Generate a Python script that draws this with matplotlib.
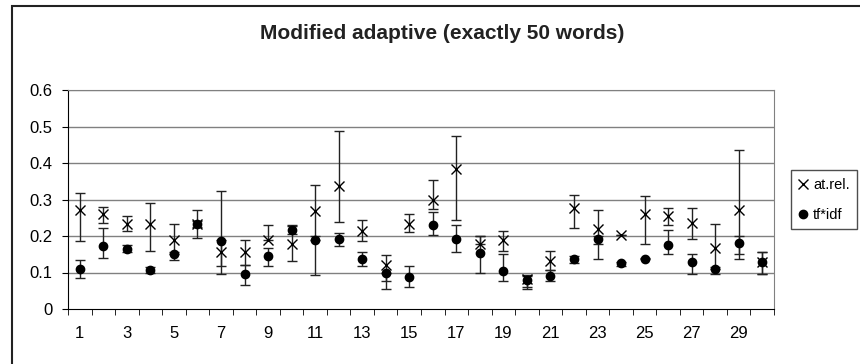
import numpy as np
import matplotlib.pyplot as plt

plt.rcParams['font.family'] = ['Liberation Sans', 'DejaVu Sans']

categories = list(range(1, 31))

# at.rel. series: value, upper end, lower end
atrel = [0.272, 0.260, 0.233, 0.233, 0.190, 0.233, 0.155, 0.155, 0.190, 0.178,
         0.269, 0.338, 0.213, 0.120, 0.233, 0.300, 0.384, 0.179, 0.190, 0.081,
         0.132, 0.277, 0.220, 0.202, 0.260, 0.254, 0.236, 0.167, 0.272, 0.128]
atrel_hi = [0.317, 0.279, 0.256, 0.291, 0.233, 0.272, 0.190, 0.190, 0.229, 0.230,
            0.341, 0.489, 0.245, 0.147, 0.260, 0.354, 0.473, 0.199, 0.213, 0.093,
            0.158, 0.313, 0.272, 0.202, 0.310, 0.277, 0.277, 0.233, 0.436, 0.156]
atrel_lo = [0.185, 0.235, 0.213, 0.158, 0.152, 0.194, 0.097, 0.121, 0.190, 0.132,
            0.190, 0.237, 0.187, 0.076, 0.210, 0.274, 0.243, 0.179, 0.158, 0.060,
            0.107, 0.222, 0.179, 0.202, 0.178, 0.231, 0.193, 0.110, 0.151, 0.097]

# tf*idf series: value, upper end, lower end
tfidf = [0.110, 0.173, 0.164, 0.106, 0.151, 0.233, 0.187, 0.096, 0.146, 0.216,
         0.188, 0.193, 0.138, 0.100, 0.088, 0.231, 0.192, 0.153, 0.103, 0.079,
         0.091, 0.138, 0.193, 0.126, 0.138, 0.176, 0.130, 0.110, 0.181, 0.130]
tfidf_hi = [0.135, 0.222, 0.174, 0.114, 0.155, 0.240, 0.322, 0.121, 0.167, 0.227,
            0.200, 0.207, 0.155, 0.100, 0.117, 0.265, 0.231, 0.199, 0.152, 0.090,
            0.107, 0.144, 0.200, 0.130, 0.140, 0.217, 0.151, 0.115, 0.199, 0.156]
tfidf_lo = [0.085, 0.140, 0.155, 0.098, 0.135, 0.225, 0.117, 0.067, 0.117, 0.205,
            0.094, 0.172, 0.117, 0.055, 0.059, 0.202, 0.155, 0.100, 0.076, 0.055,
            0.078, 0.126, 0.137, 0.118, 0.136, 0.151, 0.097, 0.097, 0.137, 0.097]

x = np.arange(1, len(categories) + 1)
a = np.array(atrel); t = np.array(tfidf)
a_err = [a - np.array(atrel_lo), np.array(atrel_hi) - a]
t_err = [t - np.array(tfidf_lo), np.array(tfidf_hi) - t]

W, H = 860, 364
fig = plt.figure(figsize=(W / 100, H / 100), dpi=100)
ax = fig.add_axes([68/W, 1 - 309/H, (774-68)/W, (309-90)/H])

# chart area frame (cropped at right and bottom)
fig.patches.append(plt.Rectangle((12/W, -0.2), 1.1, 1 - 6/H + 0.2, transform=fig.transFigure,
                                 fill=False, edgecolor='#222222', lw=1.5))

for yv in np.arange(0.1, 0.61, 0.1):
    ax.axhline(yv, color='#808080', lw=1, zorder=0)

ax.errorbar(x, a, yerr=a_err, fmt='x', color='black', ms=7.5, mew=1,
            ecolor='#222222', elinewidth=1, capsize=3.6, capthick=1, label='at.rel.')
ax.errorbar(x, t, yerr=t_err, fmt='o', color='black', ms=6,
            ecolor='#222222', elinewidth=1, capsize=3.6, capthick=1, label='tf*idf')

ax.set_xlim(0.5, len(categories) + 0.5)
ax.set_ylim(0, 0.6)
ax.set_yticks(np.arange(0, 0.61, 0.1))
ax.set_yticklabels(['0'] + ['%.1f' % v for v in np.arange(0.1, 0.61, 0.1)])
ax.set_xticks(x[::2])
ax.set_xticklabels([str(c) for c in categories[::2]])
ax.set_xticks(np.arange(0.5, len(categories) + 1, 1), minor=True)
ax.tick_params(axis='x', which='major', length=0, pad=12, labelsize=12)
ax.tick_params(axis='x', which='minor', length=4, direction='out')
ax.tick_params(axis='y', length=4, direction='out', labelsize=12, pad=7)
ax.spines['top'].set_color('#808080')
ax.spines['right'].set_color('#808080')

fig.text(442/W, 1 - 33.5/H, 'Modified adaptive (exactly 50 words)',
         ha='center', va='center', fontsize=15, fontweight='bold', color='#222222')

h, l = ax.get_legend_handles_labels()
fig.legend([hh[0] for hh in h], l, loc='lower left', bbox_to_anchor=(791/W, 1 - 229/H),
           fontsize=10.5, frameon=True, fancybox=False, edgecolor='#222222',
           handletextpad=0.4, handlelength=0.6, borderpad=0.5, labelspacing=1.1,
           borderaxespad=0)

fig.savefig('out.png', dpi=100)
